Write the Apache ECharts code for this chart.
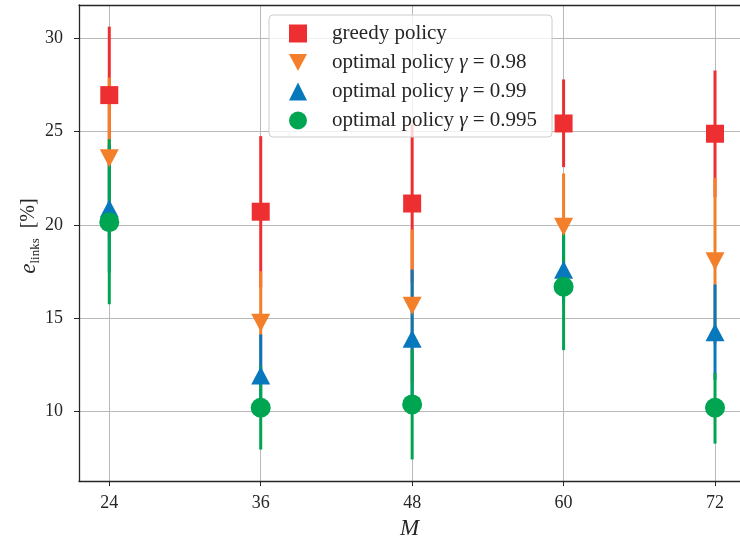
<!DOCTYPE html>
<html><head><meta charset="utf-8">
<script src="https://cdn.jsdelivr.net/npm/echarts@6/dist/echarts.min.js"></script>
<style>html,body{margin:0;padding:0;background:#fff}#c{width:740px;height:545px}</style>
</head><body><div id="c"></div>
<script>
// ---- data ----
const M = [24, 36, 48, 60, 72];
const yTicks = [10, 15, 20, 25, 30];
const xTicks = [24, 36, 48, 60, 72];
const names = ['greedy policy', 'optimal policy γ = 0.98', 'optimal policy γ = 0.99', 'optimal policy γ = 0.995'];

const greedyMean = [26.96, 20.71, 21.15, 25.44, 24.89];
const greedyLow  = [23.29, 16.66, 16.91, 23.10, 21.50];
const greedyHigh = [30.63, 24.76, 25.39, 27.80, 28.28];

const opt098Mean = [23.57, 14.76, 15.67, 19.90, 18.06];
const opt098Low  = [19.24, 12.00, 11.60, 17.04, 13.60];
const opt098High = [27.90, 17.52, 19.76, 22.76, 22.53];

const opt099Mean = [20.88, 11.93, 13.90, 17.60, 14.25];
const opt099Low  = [17.45,  9.70, 10.20, 15.80, 11.70];
const opt099High = [24.30, 14.13, 17.61, 19.40, 16.81];

const opt0995Mean = [20.15, 10.20, 10.38, 16.69, 10.20];
const opt0995Low  = [15.75,  7.96,  7.43, 13.29,  8.28];
const opt0995High = [24.60, 12.44, 13.32, 19.58, 12.07];

// ---- styling ----
const colors = ['#EE2F31', '#F47F2A', '#0878BD', '#00A551'];
const FONT = 'Liberation Serif';
const TXT = '#262626';

const means = [greedyMean, opt098Mean, opt099Mean, opt0995Mean];
const lows = [greedyLow, opt098Low, opt099Low, opt0995Low];
const highs = [greedyHigh, opt098High, opt099High, opt0995High];
const symbols = ['rect', 'triangle', 'triangle', 'circle'];
const sizes = [18, [19, 18], [19, 18], 20];
const rotates = [0, 180, 0, 0];
const legendIcons = ['rect', 'path://M0,0 L20,0 L10,19 Z', 'triangle', 'circle'];

function renderErr(color) {
  return function (params, api) {
    const x = api.value(0), lo = api.value(1), hi = api.value(2);
    const p1 = api.coord([x, lo]), p2 = api.coord([x, hi]);
    return {
      type: 'line',
      shape: { x1: p1[0], y1: p1[1], x2: p2[0], y2: p2[1] },
      style: { stroke: color, lineWidth: 3 }
    };
  };
}

const series = [];
for (let s = 0; s < 4; s++) {
  series.push({
    type: 'custom',
    name: 'err' + s,
    renderItem: renderErr(colors[s]),
    data: M.map((m, i) => [m, lows[s][i], highs[s][i]]),
    encode: { x: 0, y: [1, 2] },
    z: 2,
    silent: true,
    clip: false
  });
}
for (let s = 0; s < 4; s++) {
  series.push({
    type: 'scatter',
    name: names[s],
    data: M.map((m, i) => [m, means[s][i]]),
    symbol: symbols[s],
    symbolSize: sizes[s],
    symbolRotate: rotates[s],
    itemStyle: { color: colors[s], opacity: 1 },
    z: 3,
    silent: true
  });
}

const chart = echarts.init(document.getElementById('c'), null, { renderer: 'canvas' });
chart.setOption({
  animation: false,
  backgroundColor: '#ffffff',
  grid: { left: 79, right: 0, top: 5, bottom: 63, containLabel: false },
  legend: {
    data: names.map((n, i) => ({ name: n, icon: legendIcons[i] })),
    orient: 'vertical',
    left: 269,
    top: 15,
    padding: [8, 15, 6, 20],
    itemGap: 8,
    itemWidth: 18,
    itemHeight: 18,
    symbolRotate: 0,
    backgroundColor: 'rgba(255,255,255,0.8)',
    borderColor: '#cccccc',
    borderWidth: 1,
    borderRadius: 4,
    z: 10,
    selectedMode: false,
    formatter: function (n) {
      if (n === names[0]) return '{sp|}{n|greedy policy}';
      const g = n.split('= ')[1];
      return '{sp|}{n|optimal policy }{g|γ}{n| = ' + g + '}';
    },
    textStyle: {
      rich: {
        sp: { width: 20 },
        n: { fontFamily: FONT, fontSize: 21, color: TXT, lineHeight: 19 },
        g: { fontFamily: FONT, fontSize: 21, fontStyle: 'italic', color: TXT, lineHeight: 19 }
      }
    }
  },
  xAxis: [{
    type: 'value',
    min: 21.6, max: 73.98,
    name: 'M',
    nameLocation: 'middle',
    nameGap: 34,
    nameTextStyle: { fontFamily: FONT, fontSize: 23, fontStyle: 'italic', color: TXT },
    axisLine: { show: true, onZero: false, lineStyle: { color: TXT, width: 1.3 } },
    axisTick: { show: true, length: 5, inside: false, customValues: xTicks, lineStyle: { color: TXT, width: 1 } },
    axisLabel: { customValues: xTicks, fontFamily: FONT, fontSize: 18, color: TXT, margin: 13 },
    splitLine: { show: true, lineStyle: { color: '#b9b9b9', width: 1 } }
  }, {
    type: 'value',
    min: 21.6, max: 73.98,
    position: 'top',
    axisLine: { show: true, onZero: false, lineStyle: { color: TXT, width: 1.3 } },
    axisTick: { show: false },
    axisLabel: { show: false },
    splitLine: { show: false }
  }],
  yAxis: {
    type: 'value',
    min: 6.27, max: 31.79,
    name: '{e|e}{s|links}{p|  [%]}',
    nameLocation: 'middle',
    nameGap: 37,
    nameMoveOverlap: false,
    nameRotate: 90,
    nameTextStyle: {
      padding: [0, 0, 0, 14],
      rich: {
        e: { fontFamily: FONT, fontSize: 23, fontStyle: 'italic', color: TXT, lineHeight: 26, verticalAlign: 'middle' },
        s: { fontFamily: FONT, fontSize: 13, color: TXT, lineHeight: 26, verticalAlign: 'bottom' },
        p: { fontFamily: FONT, fontSize: 20, color: TXT, lineHeight: 26, verticalAlign: 'middle' }
      }
    },
    axisLine: { show: true, onZero: false, lineStyle: { color: TXT, width: 1.3 } },
    axisTick: { show: true, length: 5, inside: false, customValues: yTicks, lineStyle: { color: TXT, width: 1 } },
    axisLabel: { customValues: yTicks, fontFamily: FONT, fontSize: 18, color: TXT, margin: 16 },
    splitLine: { show: true, lineStyle: { color: '#b9b9b9', width: 1 } }
  },
  series: series
});
</script>
</body></html>
